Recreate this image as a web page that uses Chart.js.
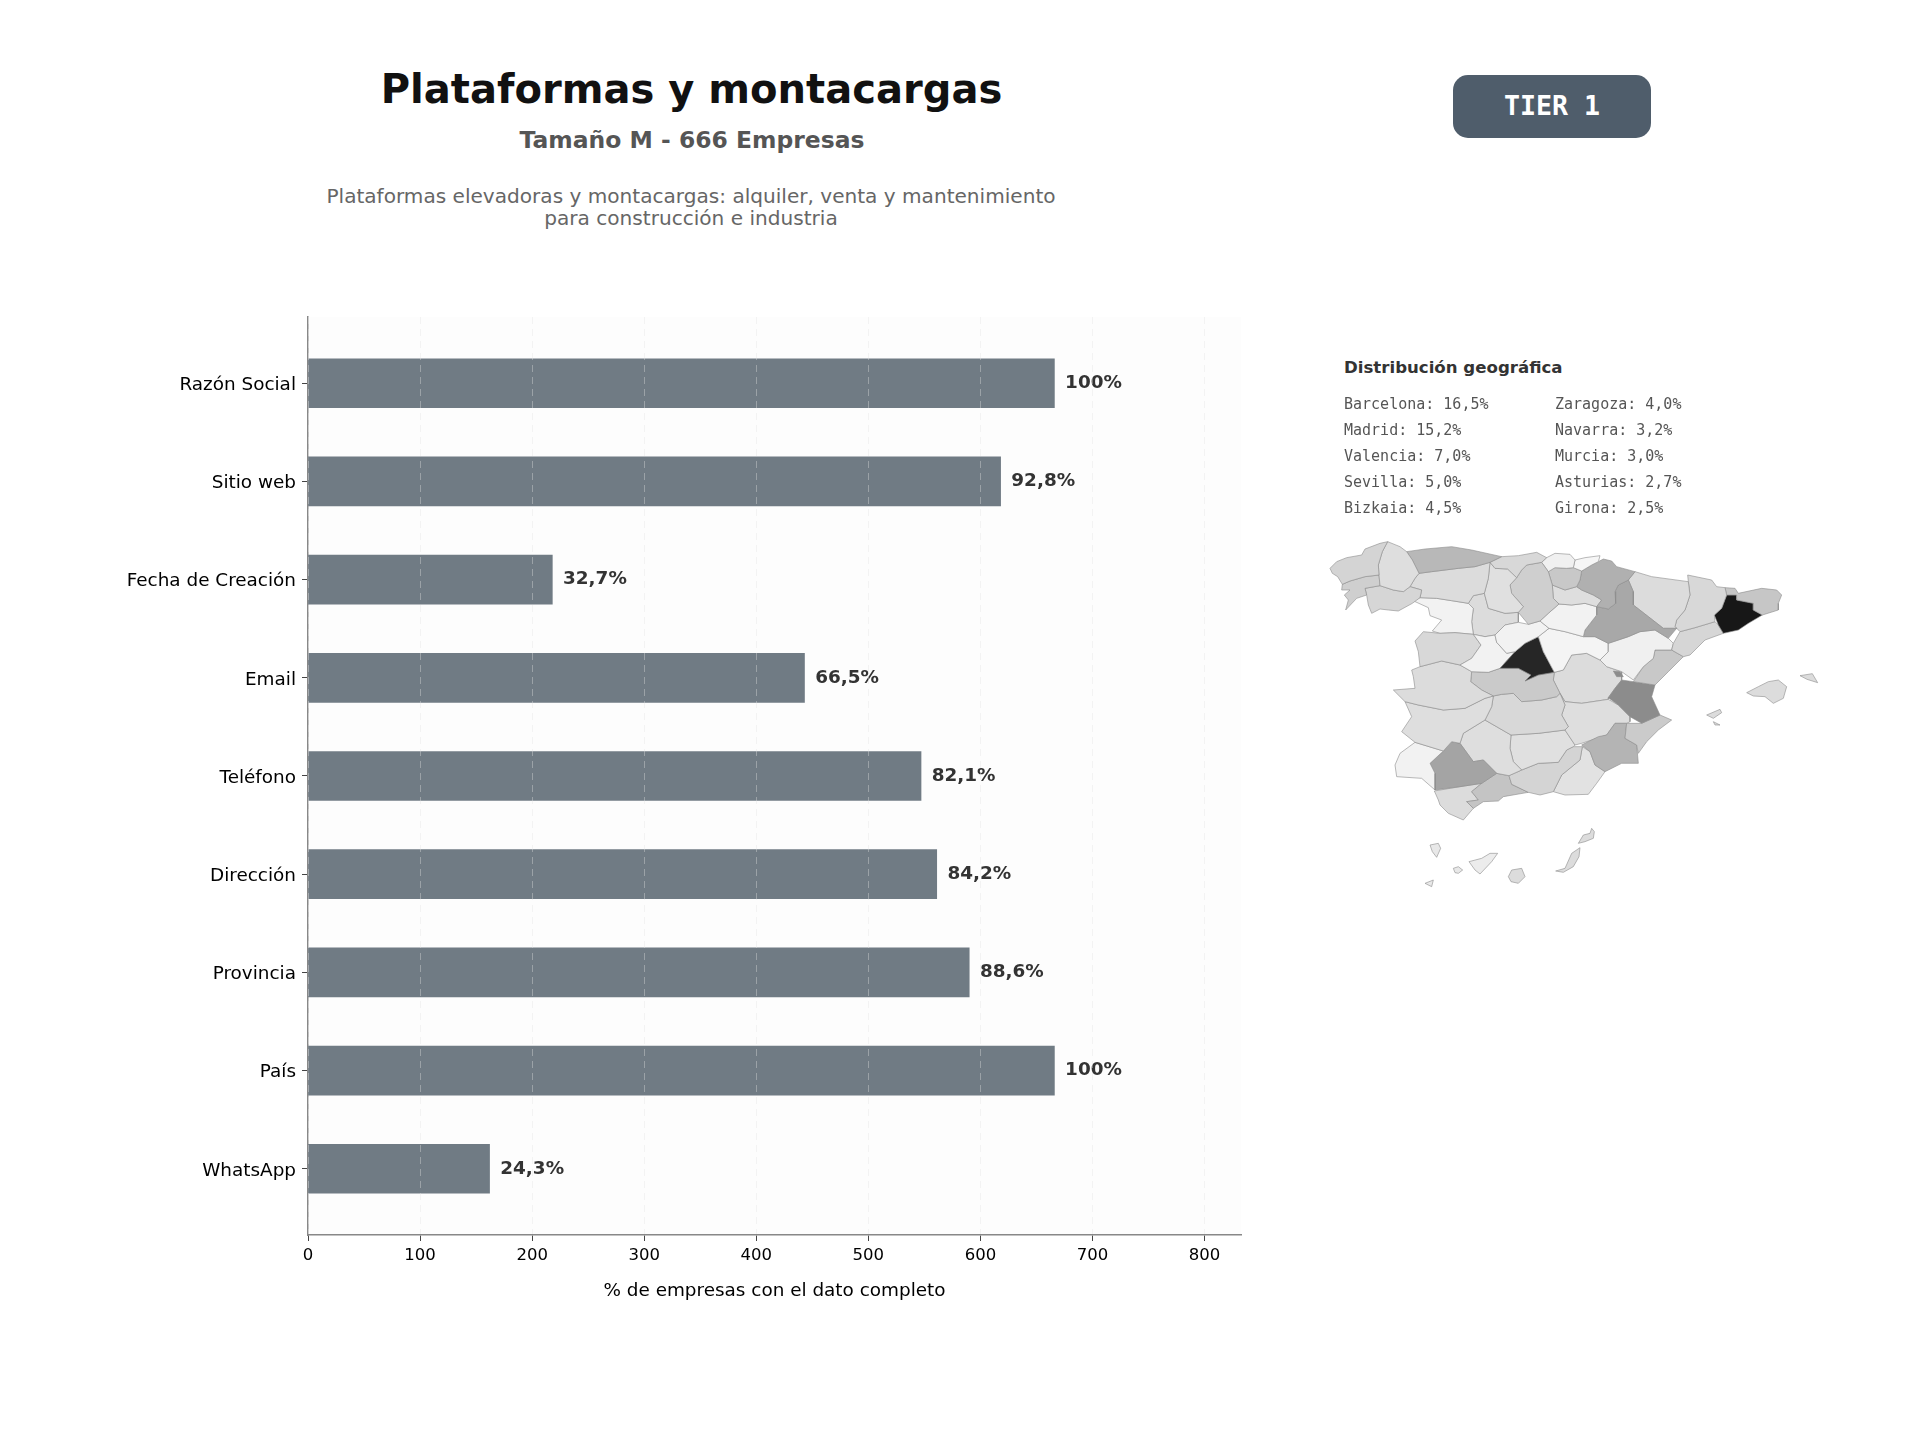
<!DOCTYPE html>
<html><head><meta charset="utf-8">
<script src="https://cdn.jsdelivr.net/npm/chart.js@4/dist/chart.umd.min.js"></script>
<style>
html,body{margin:0;padding:0;background:#fff;width:1920px;height:1440px;overflow:hidden;font-family:"DejaVu Sans",sans-serif}
.t{position:absolute;white-space:nowrap;transform:translate(-50%,-50%);text-align:center}
#title{left:691.5px;top:89px;font-size:40.05px;font-weight:bold;color:#111}
#sub{left:692px;top:140px;font-size:23.45px;font-weight:bold;color:#555}
#d1{left:691px;top:195.5px;font-size:20.08px;color:#666}
#d2{left:691px;top:218px;font-size:20.08px;color:#666}
#badge{position:absolute;left:1453px;top:75px;width:198px;height:63px;border-radius:15px;background:#4f5d6b;color:#fff;font:bold 26.6px "DejaVu Sans Mono",monospace;display:flex;align-items:center;justify-content:center;padding-bottom:2px;box-sizing:border-box}
#geo{position:absolute;left:1344px;top:358px;font-size:16.6px;font-weight:bold;color:#333;white-space:nowrap}
.g{position:absolute;font:15px "DejaVu Sans Mono",monospace;color:#555;white-space:nowrap}
canvas{position:absolute;display:block}
</style></head><body>
<div class="t" id="title">Plataformas y montacargas</div>
<div class="t" id="sub">Tamaño M - 666 Empresas</div>
<div class="t" id="d1">Plataformas elevadoras y montacargas: alquiler, venta y mantenimiento</div>
<div class="t" id="d2">para construcción e industria</div>
<div id="badge">TIER 1</div>
<div id="geo">Distribución geográfica</div>
<div style="position:absolute;left:0;top:0;width:1300px;height:1309px"><canvas id="main"></canvas></div>
<div style="position:absolute;left:1300px;top:340px;width:560px;height:560px"><canvas id="map"></canvas></div>
<div id="geoList"></div>
<script>
const categories = ["Razón Social","Sitio web","Fecha de Creación","Email","Teléfono","Dirección","Provincia","País","WhatsApp"];
const counts = [666,618,218,443,547,561,590,666,162];
const percentLabels = ["100%","92,8%","32,7%","66,5%","82,1%","84,2%","88,6%","100%","24,3%"];
const xTicks = [0,100,200,300,400,500,600,700,800];
const xTitle = "% de empresas con el dato completo";
const geoCol1 = ["Barcelona: 16,5%","Madrid: 15,2%","Valencia: 7,0%","Sevilla: 5,0%","Bizkaia: 4,5%"];
const geoCol2 = ["Zaragoza: 4,0%","Navarra: 3,2%","Murcia: 3,0%","Asturias: 2,7%","Girona: 2,5%"];

// province outlines: [shade, x,y, x,y, ...]
const provinces = {
 Coruna:["#d4d4d4",15,100,35,80,65,68,110,60,120,42,165,25,188,20,172,50,160,90,162,120,120,125,75,138,52,148,38,125,22,115],
 Lugo:["#dedede",188,20,225,35,245,50,262,75,282,115,270,130,255,155,235,170,205,165,165,152,162,120,160,90,172,50],
 Pontevedra:["#cfcfcf",52,148,75,138,120,125,162,120,165,152,120,160,125,180,95,190,62,225,70,195,58,180,75,165,50,165],
 Ourense:["#d6d6d6",120,160,165,152,205,165,235,170,255,155,290,165,285,188,262,205,220,228,190,225,165,222,140,235,130,210,125,180],
 Asturias:["#b8b8b8",245,50,300,42,380,35,440,45,530,65,495,82,450,95,400,100,360,105,320,110,282,115,262,75],
 Leon:["#dcdcdc",282,115,320,110,360,105,400,100,450,95,495,82,490,130,478,175,445,182,430,205,380,197,335,190,285,188,290,165,255,155,270,130],
 Cantabria:["#d8d8d8",530,65,580,62,635,52,665,68,650,82,605,90,590,105,575,128,548,102,510,100,495,82],
 Palencia:["#e0e0e0",495,82,510,100,548,102,575,128,555,150,560,175,595,215,580,232,540,235,490,220,478,175,490,130],
 Burgos:["#cfcfcf",575,128,590,105,605,90,650,82,670,110,682,150,685,190,702,207,670,235,645,258,610,268,580,232,595,215,560,175,555,150],
 Bizkaia:["#f0f0f0",665,68,690,55,735,58,750,75,745,98,725,100,690,98,670,110,650,82],
 Gipuzkoa:["#f6f6f6",750,75,780,68,825,62,820,80,800,90,770,108,745,98],
 Alava:["#c8c8c8",670,110,690,98,725,100,745,98,770,108,765,135,755,155,720,165,682,150],
 Navarra:["#b0b0b0",770,108,800,90,820,80,835,72,860,78,875,95,930,110,910,135,880,150,870,170,872,205,850,222,815,215,830,195,805,180,770,165,755,155,765,135],
 Rioja:["#dedede",682,150,720,165,755,155,770,165,805,180,830,195,815,215,780,205,740,210,702,207,685,190],
 Soria:["#f2f2f2",702,207,740,210,780,205,815,215,815,240,780,285,775,305,720,290,672,280,645,258,670,235],
 Zaragoza:["#a8a8a8",872,205,870,170,880,150,910,135,925,170,925,210,970,245,1015,280,1055,280,1030,310,990,285,945,290,910,305,850,325,810,305,775,305,780,285,815,240,815,215,850,222],
 Huesca:["#dcdcdc",930,110,980,125,1090,140,1095,180,1080,225,1055,255,1050,275,1055,280,1015,280,970,245,925,210,925,170,910,135],
 Lleida:["#d8d8d8",1088,120,1160,135,1175,155,1200,158,1205,180,1190,220,1168,240,1170,260,1110,278,1065,290,1050,275,1055,255,1080,225,1095,180,1090,140],
 Girona:["#c6c6c6",1200,158,1230,160,1240,175,1310,160,1355,165,1370,180,1360,205,1360,225,1312,240,1285,225,1285,205,1235,195,1235,180,1205,180],
 Barcelona:["#171717",1205,180,1235,180,1235,195,1285,205,1285,225,1312,240,1270,265,1240,285,1195,295,1180,270,1168,240,1190,220],
 Tarragona:["#d6d6d6",1065,290,1110,278,1170,260,1180,270,1195,295,1140,315,1110,345,1095,360,1075,365,1040,345,1045,325],
 Teruel:["#f0f0f0",850,325,910,305,945,290,990,285,1030,310,1045,325,1040,345,990,345,985,370,955,395,925,435,890,410,845,395,825,375,850,350],
 Castellon:["#c8c8c8",990,345,1040,345,1075,365,1030,410,990,450,925,440,955,395,985,370],
 Valencia:["#8c8c8c",890,435,925,440,990,450,980,485,1005,540,950,565,915,545,880,510,850,488,870,460],
 Ademuz:["#8c8c8c",865,408,885,410,895,425,875,425],
 Alicante:["#cbcbcb",950,565,1005,540,1040,555,1000,585,965,620,940,655,935,630,900,610,905,565],
 Murcia:["#b4b4b4",770,630,820,605,845,600,870,565,905,565,900,610,935,630,940,685,890,685,840,710,810,690,795,650],
 Segovia:["#f2f2f2",510,300,540,270,580,262,610,268,645,258,672,280,640,305,600,325,570,350,545,355,515,322],
 Guadalajara:["#f4f4f4",640,305,672,280,720,290,775,305,810,305,850,325,850,350,825,375,785,355,740,360,715,405,688,412,655,350],
 Madrid:["#262626",640,305,655,350,688,412,640,420,600,438,618,420,580,400,525,400,570,350,600,325],
 Avila:["#f2f2f2",445,298,480,305,510,300,515,322,545,355,570,350,525,400,490,412,440,410,405,390,440,370,468,330],
 Salamanca:["#d8d8d8",270,318,295,290,345,295,390,293,445,298,468,330,440,370,405,390,350,378,285,395,280,350],
 Zamora:["#f2f2f2",264,197,285,188,335,190,380,197,430,205,445,220,440,260,445,298,390,293,345,295,322,288,350,255,315,242,310,218],
 Valladolid:["#dcdcdc",430,205,445,182,478,175,490,220,540,235,580,232,580,262,540,270,510,300,480,305,445,298,440,260,445,220],
 Caceres:["#dcdcdc",260,405,285,395,350,378,405,390,440,410,437,440,470,465,505,483,480,490,420,520,355,525,280,510,240,500,205,465,270,460,265,425],
 Toledo:["#cacaca",440,410,490,412,525,400,580,400,618,420,600,438,640,420,688,412,685,435,705,475,695,485,650,495,590,500,565,475,530,478,505,483,470,465,437,440],
 Badajoz:["#dedede",240,500,280,510,355,525,420,520,480,490,505,483,500,515,480,555,415,595,405,625,380,620,355,648,270,622,230,590,260,545],
 CiudadReal:["#d8d8d8",505,483,530,478,565,475,590,500,650,495,695,485,705,475,720,510,710,540,730,575,720,585,640,595,558,600,480,555,500,515],
 Albacete:["#dedede",705,475,720,500,770,505,850,493,880,510,915,545,915,560,905,565,870,565,845,600,770,625,750,630,720,585,730,575,710,540,720,510],
 Cuenca:["#dcdcdc",688,412,715,405,740,360,785,355,825,375,845,395,890,410,890,435,870,460,850,488,850,493,770,505,720,500,705,475,685,435],
 Huelva:["#f2f2f2",225,655,270,622,355,648,315,685,330,715,330,765,290,730,215,725,210,690],
 Sevilla:["#a4a4a4",315,685,355,648,380,620,405,625,445,680,475,675,515,715,470,745,405,755,330,765,330,715],
 Cordoba:["#dedede",415,595,480,555,558,600,555,640,565,680,590,705,552,722,515,715,475,675,445,680,405,625],
 Jaen:["#e0e0e0",558,600,640,595,720,585,750,630,745,635,725,645,700,682,640,685,590,705,565,680,555,640],
 Granada:["#d4d4d4",552,722,590,705,640,685,700,682,725,645,745,635,772,635,765,675,710,720,685,770,645,780,610,772,560,748],
 Almeria:["#e2e2e2",772,635,795,650,810,690,840,710,815,745,790,778,720,780,685,770,710,720,765,675],
 Malaga:["#c4c4c4",425,800,460,795,440,770,470,745,515,715,552,722,560,748,610,772,535,785,520,798,475,800,445,820],
 Cadiz:["#dcdcdc",328,768,405,755,470,745,440,770,460,795,425,800,445,820,415,855,370,835,345,810,340,795],
 Mallorca:["#dcdcdc",1265,473,1300,455,1330,440,1360,435,1385,455,1375,490,1345,505,1320,485,1285,483],
 Menorca:["#dcdcdc",1425,422,1462,416,1478,443,1446,433],
 Ibiza:["#dcdcdc",1145,540,1185,523,1190,533,1165,550],
 Formentera:["#dcdcdc",1165,560,1185,570,1170,570],
 Lanzarote:["#dcdcdc",760,925,775,900,795,895,800,880,808,890,805,910,780,920],
 Fuerteventura:["#dcdcdc",692,1008,720,1000,740,955,765,938,762,965,745,995,715,1012],
 GranCanaria:["#dcdcdc",550,1025,560,1005,590,1000,600,1025,580,1045,558,1040],
 Tenerife:["#ececec",432,980,470,970,495,955,518,955,500,980,465,1017,450,1005],
 Gomera:["#e8e8e8",385,1000,400,995,413,1005,400,1015,390,1013],
 LaPalma:["#e8e8e8",315,930,340,925,347,940,335,967,322,950],
 Hierro:["#e8e8e8",300,1045,325,1035,320,1055]
};

const listHost = document.getElementById('geoList');
[[geoCol1,1344],[geoCol2,1555]].forEach(([col,x])=>col.forEach((s,i)=>{
  const d=document.createElement('div');d.className='g';d.textContent=s;
  d.style.left=x+'px';d.style.top=(395+i*26)+'px';listHost.appendChild(d);
}));

const plotBg = {id:'plotBg',beforeDraw(c){const a=c.chartArea,x=c.ctx;x.save();x.fillStyle='#fdfdfd';x.fillRect(a.left,a.top,a.right-a.left,a.bottom-a.top);x.restore();}};
const barLabels = {id:'barLabels',afterDatasetsDraw(c){
  const x=c.ctx,sx=c.scales.x,sy=c.scales.y;x.save();
  x.font='bold 18.4px "DejaVu Sans"';x.fillStyle='#333';x.textBaseline='middle';x.textAlign='left';
  counts.forEach((v,i)=>x.fillText(percentLabels[i],sx.getPixelForValue(v+10)-0.5,sy.getPixelForValue(i)));
  x.restore();}};

new Chart(document.getElementById('main'),{
  type:'bar',
  data:{datasets:[{data:counts.map((v,i)=>({x:v,y:i})),backgroundColor:'#707b84',borderWidth:0,barThickness:49}]},
  plugins:[plotBg,barLabels],
  options:{
    indexAxis:'y',responsive:true,maintainAspectRatio:false,animation:false,
    layout:{padding:{left:0,right:59,top:317,bottom:0}},
    plugins:{legend:{display:false},tooltip:{enabled:false}},
    scales:{
      x:{type:'linear',min:0,max:832.5,
        afterBuildTicks(s){s.ticks=xTicks.map(v=>({value:v}));},
        afterFit(s){s.height=74;},
        grid:{z:1,color:'rgba(225,225,225,0.38)',lineWidth:1,drawTicks:true,tickLength:6,tickColor:'#444',tickWidth:1,tickBorderDash:[]},
        border:{display:true,color:'#888',width:1.5,dash:[7,5],z:2},
        ticks:{color:'#000',font:{family:'"DejaVu Sans"',size:16.5},padding:5,maxRotation:0,autoSkip:false},
        title:{display:true,text:xTitle,color:'#000',font:{family:'"DejaVu Sans"',size:18.4},padding:{top:0,bottom:7}}
      },
      y:{type:'linear',min:-0.675,max:8.675,reverse:true,offset:false,
        afterBuildTicks(s){s.ticks=categories.map((_,i)=>({value:i}));},
        afterFit(s){s.width=308;},
        grid:{display:true,offset:false,drawOnChartArea:false,drawTicks:true,tickLength:6,tickColor:'#444',tickWidth:1},
        border:{display:true,color:'#888',width:1.5},
        ticks:{color:'#000',font:{family:'"DejaVu Sans"',size:18.4},padding:6,labelOffset:2,autoSkip:false,callback:v=>categories[v]}
      }
    }
  }
});

new Chart(document.getElementById('map'),{
  type:'scatter',
  data:{datasets:Object.values(provinces).map(p=>{
    const pts=[];for(let i=1;i<p.length;i+=2)pts.push({x:p[i],y:p[i+1]});pts.push(pts[0]);
    return {data:pts,showLine:true,fill:'shape',backgroundColor:p[0],borderColor:'#8c8c8c',borderWidth:0.6,pointRadius:0,tension:0};
  })},
  options:{responsive:true,maintainAspectRatio:false,animation:false,
    layout:{padding:0},
    plugins:{legend:{display:false},tooltip:{enabled:false}},
    scales:{x:{type:'linear',min:-75,max:1605,display:false},y:{type:'linear',min:-585,max:1095,reverse:true,display:false}}
  }
});
</script>
</body></html>
